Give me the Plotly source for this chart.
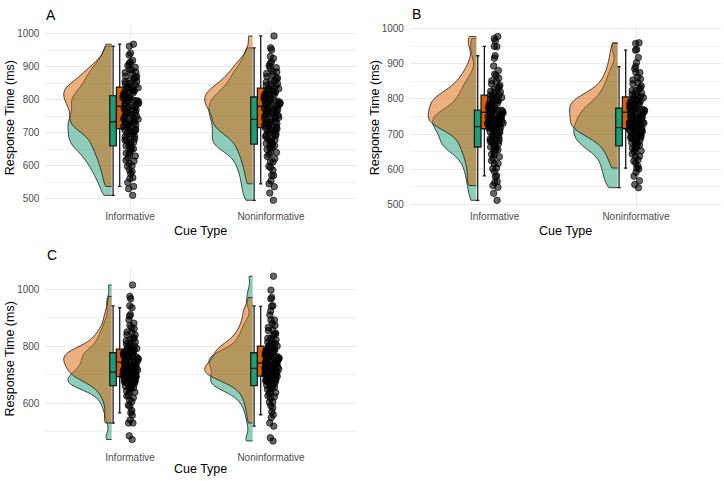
import plotly.graph_objects as go

# ---------------- data (response times in ms) ----------------
CATEGORIES = ["Informative", "Noninformative"]
PANEL_LABELS = ["A", "B", "C"]
GROUP_NAMES = ["Group 1", "Group 2"]

A_INF_GREEN = [510, 530, 549, 563, 576, 587, 598, 607, 616, 623, 632, 638, 646, 651, 658,
               662, 668, 671, 678, 681, 688, 691, 698, 701, 708, 711, 718, 721, 728, 731,
               735, 741, 745, 752, 756, 763, 767, 774, 778, 785, 789, 796, 799, 806, 810,
               814, 821, 826, 835, 840, 849, 855, 865, 871, 882, 890, 903, 914, 935, 962]
A_INF_ORANGE = [537, 561, 582, 600, 614, 629, 639, 652, 660, 671, 678, 689, 695, 704, 709,
                715, 717, 723, 726, 732, 735, 741, 744, 750, 753, 759, 762, 769, 772, 778,
                782, 787, 789, 795, 797, 803, 805, 811, 813, 819, 821, 827, 829, 834, 836,
                840, 845, 848, 855, 858, 866, 870, 878, 883, 892, 898, 909, 919, 941, 968]
A_NONINF_GREEN = [495, 517, 536, 554, 570, 586, 598, 611, 621, 633, 640, 649, 653, 660, 663,
                  667, 671, 678, 681, 688, 691, 698, 701, 708, 711, 718, 721, 728, 731, 737,
                  743, 746, 752, 755, 761, 764, 770, 773, 779, 782, 788, 791, 798, 800, 806,
                  810, 816, 820, 828, 833, 842, 848, 858, 865, 876, 884, 897, 909, 931, 957]
A_NONINF_ORANGE = [545, 571, 594, 611, 628, 640, 654, 663, 675, 682, 692, 697, 705, 708, 713,
                   717, 722, 725, 731, 734, 740, 743, 749, 752, 758, 761, 767, 769, 775, 778,
                   782, 787, 788, 794, 795, 801, 803, 808, 810, 816, 817, 823, 825, 830, 833,
                   837, 843, 846, 853, 857, 865, 870, 879, 885, 895, 902, 914, 925, 951, 993]

B_INF_GREEN = [511, 531, 548, 565, 578, 593, 603, 616, 624, 635, 641, 650, 654, 659, 661,
               665, 670, 672, 678, 680, 686, 688, 694, 696, 702, 704, 710, 712, 717, 719,
               723, 727, 728, 733, 734, 739, 740, 745, 746, 751, 752, 757, 759, 765, 767,
               769, 776, 782, 789, 796, 804, 812, 820, 829, 839, 852, 870, 923, 949, 972]
B_INF_ORANGE = [553, 562, 581, 601, 615, 631, 642, 655, 663, 674, 681, 691, 697, 706, 712,
                718, 719, 724, 725, 730, 731, 736, 737, 742, 743, 748, 749, 754, 755, 760,
                764, 768, 770, 774, 776, 780, 782, 787, 789, 794, 796, 801, 803, 807, 810,
                812, 818, 822, 830, 834, 843, 849, 859, 867, 881, 894, 916, 950, 966, 978]
B_NONINF_GREEN = [547, 556, 567, 580, 591, 600, 608, 618, 627, 636, 643, 650, 656, 660, 664,
                  668, 673, 675, 680, 682, 687, 689, 694, 696, 701, 703, 708, 709, 714, 716,
                  720, 724, 726, 731, 733, 738, 740, 746, 748, 754, 756, 762, 764, 770, 772,
                  775, 781, 785, 793, 798, 807, 813, 824, 832, 846, 857, 875, 892, 941, 958]
B_NONINF_ORANGE = [603, 623, 637, 652, 661, 672, 678, 687, 691, 698, 700, 706, 707, 712, 713,
                   717, 721, 722, 727, 728, 733, 734, 739, 740, 745, 746, 751, 752, 758, 760,
                   764, 768, 769, 773, 774, 779, 780, 785, 786, 791, 792, 797, 798, 803, 804,
                   807, 813, 816, 824, 828, 837, 843, 854, 862, 875, 886, 903, 918, 939, 960]

C_INF_GREEN = [472, 485, 530, 557, 574, 593, 605, 619, 627, 638, 643, 651, 654, 659, 660,
               663, 667, 669, 673, 674, 679, 680, 685, 686, 691, 693, 698, 700, 705, 707,
               711, 716, 718, 724, 727, 734, 737, 744, 747, 754, 757, 764, 767, 773, 776,
               778, 786, 791, 801, 808, 819, 827, 840, 850, 866, 881, 906, 942, 967, 1015]
C_INF_ORANGE = [530, 541, 566, 589, 611, 625, 640, 649, 660, 666, 675, 679, 686, 688, 691,
                695, 700, 701, 707, 708, 714, 715, 721, 722, 728, 729, 734, 735, 740, 742,
                746, 750, 751, 756, 757, 762, 763, 768, 769, 774, 775, 780, 781, 786, 788,
                792, 798, 801, 809, 814, 823, 829, 840, 848, 861, 873, 893, 911, 935, 975]
C_NONINF_GREEN = [467, 478, 519, 549, 570, 591, 604, 618, 626, 637, 642, 650, 653, 659, 660,
                  663, 668, 670, 676, 678, 684, 686, 692, 694, 700, 702, 708, 710, 716, 719,
                  725, 730, 731, 737, 739, 744, 746, 752, 753, 759, 761, 766, 768, 774, 776,
                  778, 786, 791, 801, 808, 820, 829, 843, 855, 873, 892, 942, 966, 997, 1046]
C_NONINF_ORANGE = [530, 559, 584, 603, 622, 634, 648, 656, 666, 671, 679, 682, 688, 689, 693,
                   697, 701, 702, 707, 708, 713, 714, 719, 720, 725, 726, 731, 732, 737, 739,
                   743, 748, 750, 756, 758, 764, 766, 772, 774, 780, 782, 788, 790, 796, 799,
                   802, 810, 814, 823, 828, 838, 845, 857, 866, 880, 892, 910, 924, 940, 971]

PANEL_DATA = {
    "A": [(A_INF_GREEN, A_INF_ORANGE), (A_NONINF_GREEN, A_NONINF_ORANGE)],
    "B": [(B_INF_GREEN, B_INF_ORANGE), (B_NONINF_GREEN, B_NONINF_ORANGE)],
    "C": [(C_INF_GREEN, C_INF_ORANGE), (C_NONINF_GREEN, C_NONINF_ORANGE)],
}

# ---------------- styling / layout ----------------
W, H = 724, 481
FONT = "Liberation Sans, Arial, sans-serif"
GREEN = "#1b9e77"
ORANGE = "#d95f02"
GREEN_FILL = "rgba(27,158,119,0.5)"
ORANGE_FILL = "rgba(217,95,2,0.5)"
GRID = "#ebebeb"

# axis geometry (pixels)
PANEL_GEOM = {
    "A": dict(x0=45.4, x1=355.6, y0=23.3, y1=206.7, yrange=[470, 1020], dtick=100, minor=50,
              letter=(51, 11.5), ytitle_x=9.5, xtitle_y=229.3),
    "B": dict(x0=409.9, x1=720.8, y0=23.3, y1=206.7, yrange=[487.6, 1004.8], dtick=100, minor=50,
              letter=(416.5, 10.5), ytitle_x=374.5, xtitle_y=229.3),
    "C": dict(x0=45.4, x1=355.6, y0=267.0, y1=450.4, yrange=[436.2, 1074], dtick=200, minor=100,
              letter=(52, 254), ytitle_x=9.5, xtitle_y=470),
}

VIOLIN_OFFSET = -0.130
GREEN_BOX_OFFSET = -0.12
ORANGE_BOX_OFFSET = -0.073
BOX_WIDTH = 0.047
POINT_OFFSET = 0.006
POINT_WIDTH = 0.118
GREEN_VIOLIN_WIDTH = 0.62
ORANGE_VIOLIN_WIDTH = 0.68
BANDWIDTH = 20

fig = go.Figure()
layout = dict(
    width=W, height=H, margin=dict(l=0, r=0, t=0, b=0),
    paper_bgcolor="white", plot_bgcolor="white",
    showlegend=False, boxmode="overlay", violinmode="overlay",
    font=dict(family=FONT),
    annotations=[],
)

for idx, label in enumerate(PANEL_LABELS):
    g = PANEL_GEOM[label]
    sfx = "" if idx == 0 else str(idx + 1)
    xa, ya = "x" + sfx, "y" + sfx
    layout["xaxis" + sfx] = dict(
        domain=[g["x0"] / W, g["x1"] / W], anchor=ya, range=[0.4, 2.6],
        tickvals=[1, 2], ticktext=CATEGORIES, showgrid=True, gridcolor=GRID, gridwidth=1,
        zeroline=False, showline=False, ticks="", ticklabelstandoff=0,
        tickfont=dict(size=10, color="#4d4d4d", family=FONT), fixedrange=True,
    )
    layout["yaxis" + sfx] = dict(
        domain=[1 - g["y1"] / H, 1 - g["y0"] / H], anchor=xa, range=g["yrange"],
        tick0=0, dtick=g["dtick"], showgrid=True, gridcolor=GRID, gridwidth=1,
        minor=dict(tick0=0, dtick=g["minor"], showgrid=True, gridcolor="#f1f1f1", gridwidth=0.6),
        zeroline=False, showline=False, ticks="outside", ticklen=3, tickcolor="rgba(0,0,0,0)",
        tickfont=dict(size=10, color="#4d4d4d", family=FONT), fixedrange=True,
    )
    cx = (g["x0"] + g["x1"]) / 2 / W
    layout["annotations"] += [
        dict(text=label, x=g["letter"][0] / W, y=1 - g["letter"][1] / H, xref="paper", yref="paper",
             xanchor="center", yanchor="middle", showarrow=False, font=dict(size=14, color="black")),
        dict(text="Cue Type", x=cx, y=1 - g["xtitle_y"] / H, xref="paper", yref="paper",
             xanchor="center", yanchor="middle", showarrow=False, font=dict(size=12.5, color="black")),
        dict(text="Response Time (ms)", x=g["ytitle_x"] / W, y=1 - (g["y0"] + g["y1"]) / 2 / H,
             xref="paper", yref="paper", xanchor="center", yanchor="middle", textangle=-90,
             showarrow=False, font=dict(size=12.5, color="black")),
    ]

    for ci, (green_vals, orange_vals) in enumerate(PANEL_DATA[label]):
        pos = ci + 1
        # half violins
        for vals, fill, wd, nm in [(green_vals, GREEN_FILL, GREEN_VIOLIN_WIDTH, GROUP_NAMES[0]),
                                   (orange_vals, ORANGE_FILL, ORANGE_VIOLIN_WIDTH, GROUP_NAMES[1])]:
            fig.add_trace(go.Violin(
                x=[pos + VIOLIN_OFFSET] * len(vals), y=vals, name=nm, xaxis=xa, yaxis=ya,
                side="negative", width=wd, spanmode="hard", bandwidth=BANDWIDTH,
                points=False, fillcolor=fill, line=dict(color="#1a1a1a", width=0.8),
                scalemode="width", scalegroup=f"{label}{ci}{nm}", hoverinfo="skip",
            ))
        # boxes
        for vals, col, off, nm in [(green_vals, GREEN, GREEN_BOX_OFFSET, GROUP_NAMES[0]),
                                   (orange_vals, ORANGE, ORANGE_BOX_OFFSET, GROUP_NAMES[1])]:
            fig.add_trace(go.Box(
                x=[pos + off] * len(vals), y=vals, name=nm, xaxis=xa, yaxis=ya,
                width=BOX_WIDTH, fillcolor=col, line=dict(color="#1a1a1a", width=1.3),
                boxpoints="outliers", marker=dict(opacity=0, size=1), hoverinfo="skip",
            ))
        # jittered raw points (both groups)
        allvals = list(green_vals) + list(orange_vals)
        fig.add_trace(go.Box(
            x=[pos + POINT_OFFSET] * len(allvals), y=allvals, xaxis=xa, yaxis=ya,
            width=POINT_WIDTH, fillcolor="rgba(0,0,0,0)", line=dict(color="rgba(0,0,0,0)", width=0),
            boxpoints="all", jitter=1, pointpos=0,
            marker=dict(color="rgba(0,0,0,0.6)", size=6.5,
                        line=dict(color="rgba(0,0,0,0.8)", width=0.8)),
            hoverinfo="skip",
        ))

fig.update_layout(**layout)
fig.write_html("out.html")
